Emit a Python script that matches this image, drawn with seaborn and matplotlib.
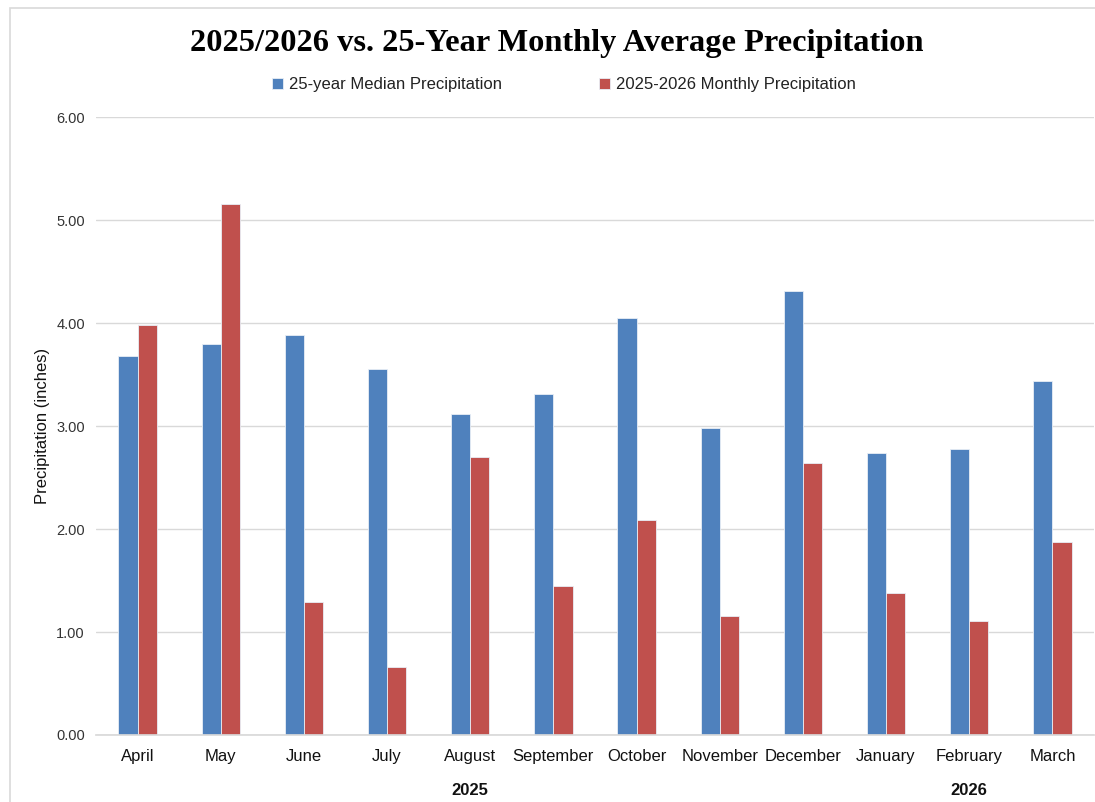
import numpy as np
import pandas as pd
import seaborn as sns
import matplotlib.pyplot as plt
from matplotlib.patches import Rectangle

# ── Data ─────────────────────────────────────────────────────────────────────
months = ["April", "May", "June", "July", "August", "September",
          "October", "November", "December", "January", "February", "March"]
median_25yr = [3.68, 3.80, 3.88, 3.55, 3.12, 3.31,
               4.05, 2.98, 4.31, 2.74, 2.78, 3.44]
monthly_2526 = [3.98, 5.16, 1.29, 0.66, 2.70, 1.45,
                2.09, 1.16, 2.64, 1.38, 1.11, 1.87]
series_names = ["25-year Median Precipitation", "2025-2026 Monthly Precipitation"]
year_labels = {"2025": "August", "2026": "February"}

BLUE = "#4F81BD"
RED = "#C0504D"

df = pd.DataFrame({
    "month": months * 2,
    "value": median_25yr + monthly_2526,
    "series": [series_names[0]] * len(months) + [series_names[1]] * len(months),
})

sns.set_theme(style="white")
plt.rcParams["font.family"] = ["Liberation Sans Narrow", "Liberation Sans", "DejaVu Sans"]
plt.rcParams["text.color"] = "black"

fig = plt.figure(figsize=(10.95, 8.02), dpi=100)
ax = fig.add_axes([96 / 1095, 1 - 735 / 802, (1094 - 96) / 1095, (735 - 117) / 802])

sns.barplot(
    data=df, x="month", y="value", hue="series",
    order=months, hue_order=series_names,
    palette=[BLUE, RED], width=0.46, saturation=1,
    edgecolor="#E8EEF6", linewidth=0.6, ax=ax,
)

ax.set_ylim(0, 6)
ax.set_xlim(-0.5, 11.5)
ax.set_yticks(np.arange(0, 6.01, 1))
ax.set_yticklabels([f"{v:.2f}" for v in np.arange(0, 6.01, 1)], fontsize=10.5, color="#333333")
ax.tick_params(axis="y", length=0, pad=8)
ax.tick_params(axis="x", length=0, pad=10, labelsize=12, colors="#111111")
ax.yaxis.grid(True, color="#D9D9D9", linewidth=1.0)
ax.set_axisbelow(True)
for s in ["top", "right", "left"]:
    ax.spines[s].set_visible(False)
ax.spines["bottom"].set_color("#D9D9D9")
ax.set_xlabel("")
ax.set_ylabel("Precipitation (inches)", fontsize=12, color="#111111")
ax.yaxis.set_label_coords((50 - 96) / 998, 0.5)

# year labels under the month ticks
for yr, m in year_labels.items():
    ax.text(months.index(m), -0.535, yr, ha="center", va="center",
            fontsize=12, fontweight="bold", color="#111111")

# legend
handles, labels = ax.get_legend_handles_labels()
ax.legend(handles, labels, loc="center", bbox_to_anchor=(564 / 1095, 1 - 85 / 802),
          bbox_transform=fig.transFigure, ncol=2, frameon=False, fontsize=12,
          handlelength=0.65, handleheight=0.65, handletextpad=0.4, columnspacing=5.8,
          labelcolor="#222222")

fig.text(557 / 1095, 1 - 44 / 802,
         "2025/2026 vs. 25-Year Monthly Average Precipitation",
         ha="center", va="center", fontsize=23.3, fontweight="bold", color="black",
         family=["Liberation Serif", "DejaVu Serif"])

# chart-area border
fig.patches.append(Rectangle((10 / 1095, -0.01), 1.1, 1 - 8 / 802 + 0.01,
                             transform=fig.transFigure, fill=False,
                             edgecolor="#D9D9D9", linewidth=1.2))

fig.savefig("out.png", dpi=100)
